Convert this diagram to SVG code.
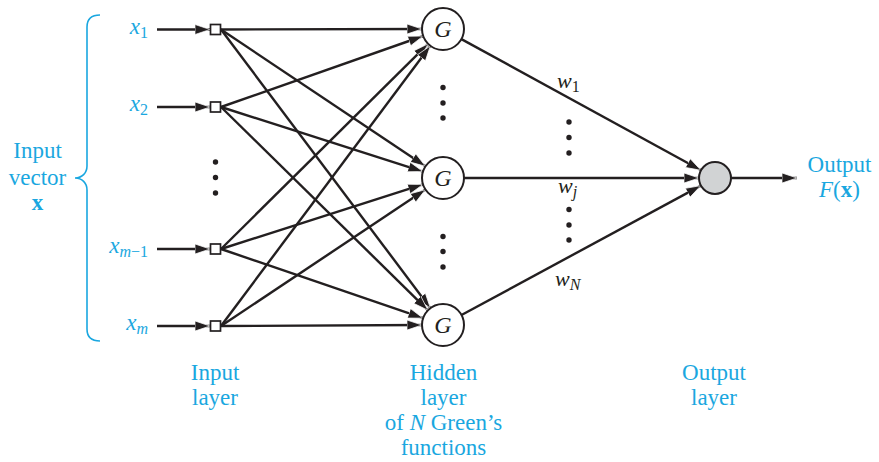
<svg xmlns="http://www.w3.org/2000/svg" width="879" height="462" viewBox="0 0 879 462" font-family="'Liberation Serif', 'Times New Roman', Times, serif">
<defs>
<style>
.ln{stroke:#231f20;stroke-width:2.4;fill:none;marker-end:url(#ah)}
.sq{fill:#fff;stroke:#231f20;stroke-width:1.7}
.g{fill:#fff;stroke:#231f20;stroke-width:2}
.o{fill:#d1d3d4;stroke:#231f20;stroke-width:2}
.dot{fill:#231f20}
text{font-family:'Liberation Serif','Times New Roman',Times,serif}
.lbl{font-size:23px;fill:#1aa7e0;text-anchor:middle}
.var{font-size:23px;fill:#1aa7e0;font-style:italic;text-anchor:end}
.gt{font-size:24px;fill:#231f20;font-style:italic;text-anchor:middle}
.wt{font-size:22px;fill:#231f20;font-style:italic}
.sub{font-size:16px;font-style:normal}
.subi{font-size:16px}
</style>
<marker id="ah" viewBox="0 0 16 11" refX="15" refY="5.5" markerWidth="16" markerHeight="11" markerUnits="userSpaceOnUse" orient="auto">
<path d="M0,0.5 L15,5.5 L0,10.5 Z" fill="#231f20" stroke="#fff" stroke-width="0.7"/>
</marker>
</defs>
<rect width="879" height="462" fill="#fff"/>

<g id="connectors">
<line class="ln" x1="157" y1="29.5" x2="210" y2="29.5"/>
<line class="ln" x1="157" y1="107" x2="210" y2="107"/>
<line class="ln" x1="157" y1="249" x2="210" y2="249"/>
<line class="ln" x1="157" y1="326" x2="210" y2="326"/>

<line class="ln" x1="221" y1="29.5" x2="422" y2="29"/>
<line class="ln" x1="221" y1="29.5" x2="425.5" y2="166.3"/>
<line class="ln" x1="221" y1="29.5" x2="430.4" y2="308.2"/>
<line class="ln" x1="221" y1="107" x2="423.2" y2="36"/>
<line class="ln" x1="221" y1="107" x2="423" y2="171.6"/>
<line class="ln" x1="221" y1="107" x2="428" y2="310.3"/>
<line class="ln" x1="221" y1="249" x2="428.1" y2="43.8"/>
<line class="ln" x1="221" y1="249" x2="423" y2="184.4"/>
<line class="ln" x1="221" y1="249" x2="423.1" y2="318.2"/>
<line class="ln" x1="221" y1="326" x2="430.4" y2="45.8"/>
<line class="ln" x1="221" y1="326" x2="425.5" y2="189.6"/>
<line class="ln" x1="221" y1="326" x2="422" y2="325"/>

<line class="ln" x1="461.4" y1="39.1" x2="701" y2="170.3"/>
<line class="ln" x1="464" y1="178" x2="699" y2="178"/>
<line class="ln" x1="461.5" y1="315" x2="700.9" y2="185.6"/>

<line class="ln" x1="731" y1="178" x2="797" y2="178"/>
</g>

<g id="input-brace">
<path d="M100,15 C92,15 87,19 87,27 L87,166 C87,173 82,178 75,178 C82,178 87,183 87,190 L87,329 C87,337 92,341 100,341" fill="none" stroke="#1aa7e0" stroke-width="1.6"/>
<text class="lbl" x="37.5" y="158">Input</text>
<text class="lbl" x="37.5" y="185">vector</text>
<text class="lbl" x="37.5" y="210" font-weight="bold">x</text>
</g>

<g id="input-labels">
<text class="var" x="148" y="34">x<tspan class="sub" dy="4">1</tspan></text>
<text class="var" x="148" y="111">x<tspan class="sub" dy="4">2</tspan></text>
<text class="var" x="148" y="253">x<tspan class="subi" dy="4">m</tspan><tspan class="sub">−1</tspan></text>
<text class="var" x="148" y="330">x<tspan class="subi" dy="4">m</tspan></text>
</g>

<g id="in1"><rect class="sq" x="210.5" y="24.5" width="10" height="10"/></g>
<g id="in2"><rect class="sq" x="210.5" y="102" width="10" height="10"/></g>
<g id="in3"><rect class="sq" x="210.5" y="244" width="10" height="10"/></g>
<g id="in4"><rect class="sq" x="210.5" y="321" width="10" height="10"/></g>

<g id="input-dots">
<circle class="dot" cx="215.5" cy="162" r="2.7"/>
<circle class="dot" cx="215.5" cy="177.5" r="2.7"/>
<circle class="dot" cx="215.5" cy="193" r="2.7"/>
</g>

<g id="g1"><circle class="g" cx="443" cy="29" r="21"/><text class="gt" x="443" y="37">G</text></g>
<g id="g2"><circle class="g" cx="443" cy="178" r="21"/><text class="gt" x="443" y="186">G</text></g>
<g id="g3"><circle class="g" cx="443" cy="325" r="21"/><text class="gt" x="443" y="333">G</text></g>

<g id="hidden-dots">
<circle class="dot" cx="443" cy="87.5" r="2.7"/>
<circle class="dot" cx="443" cy="103" r="2.7"/>
<circle class="dot" cx="443" cy="118" r="2.7"/>
<circle class="dot" cx="443" cy="236.5" r="2.7"/>
<circle class="dot" cx="443" cy="251.5" r="2.7"/>
<circle class="dot" cx="443" cy="267" r="2.7"/>
</g>

<g id="weights">
<text class="wt" x="557" y="88">w<tspan class="sub" dy="4">1</tspan></text>
<text class="wt" x="558" y="193">w<tspan class="subi" dy="4">j</tspan></text>
<text class="wt" x="555" y="286">w<tspan class="subi" dy="4">N</tspan></text>
<circle class="dot" cx="569" cy="122" r="2.7"/>
<circle class="dot" cx="569" cy="137.5" r="2.7"/>
<circle class="dot" cx="569" cy="153" r="2.7"/>
<circle class="dot" cx="569" cy="209.5" r="2.7"/>
<circle class="dot" cx="569" cy="225" r="2.7"/>
<circle class="dot" cx="569" cy="240" r="2.7"/>
</g>

<g id="out"><circle class="o" cx="715" cy="178" r="16"/></g>

<g id="output-label">
<text class="lbl" x="839.5" y="172">Output</text>
<text class="lbl" x="839.5" y="197"><tspan font-style="italic">F</tspan>(<tspan font-weight="bold">x</tspan>)</text>
</g>

<g id="layer-labels">
<text class="lbl" x="215" y="380">Input</text>
<text class="lbl" x="215" y="405">layer</text>
<text class="lbl" x="443.5" y="380">Hidden</text>
<text class="lbl" x="443.5" y="405">layer</text>
<text class="lbl" x="443.5" y="430">of <tspan font-style="italic">N</tspan> Green’s</text>
<text class="lbl" x="443.5" y="455">functions</text>
<text class="lbl" x="714" y="380">Output</text>
<text class="lbl" x="714" y="405">layer</text>
</g>
</svg>
